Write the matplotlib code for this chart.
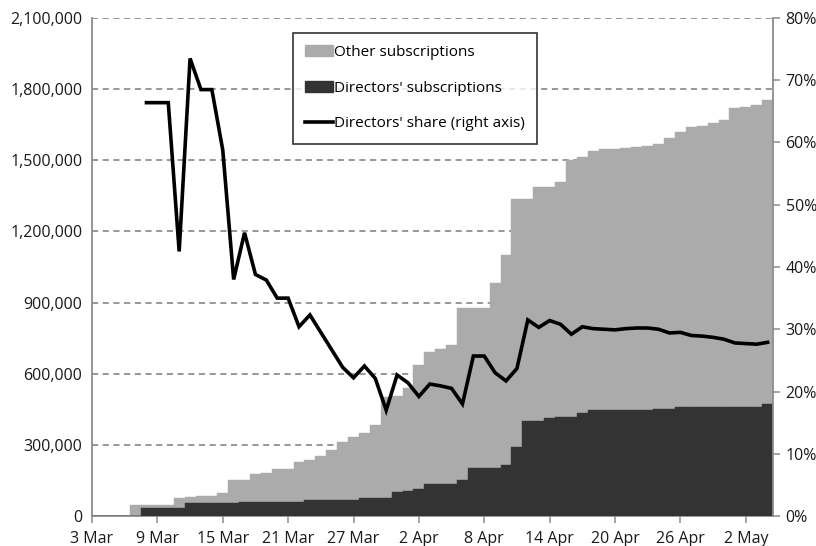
import numpy as np
import matplotlib
matplotlib.use("Agg")
from matplotlib import pyplot as plt
from matplotlib.patches import Patch
from matplotlib.lines import Line2D
from matplotlib.ticker import FuncFormatter

plt.rcParams['font.family'] = ['Open Sans', 'DejaVu Sans']

# day index 0 = 3 Mar ... 62 = 4 May
days = np.arange(63)

# cumulative subscriptions, all (top of light bars)
total = [0, 0, 0, 0, 46000, 46000, 46000, 46000, 78000, 80000,
         84000, 84000, 98000, 150000, 150000, 176000, 183000, 197000, 197000, 229000,
         236000, 253000, 278000, 313000, 334000, 351000, 382000, 503000, 505000, 540000,
         637000, 690000, 703000, 720000, 879000, 879000, 879000, 984000, 1101000, 1336000,
         1336000, 1388000, 1388000, 1410000, 1501000, 1515000, 1541000, 1547000, 1549000, 1551000,
         1555000, 1560000, 1567000, 1593000, 1621000, 1642000, 1645000, 1659000, 1670000, 1720000,
         1726000, 1733000, 1755000]

# directors' subscriptions (dark bars)
directors = [0, 0, 0, 0, 0, 33000, 33000, 33000, 33000, 55000,
             55000, 55000, 55000, 55000, 61000, 61000, 61000, 61000, 61000, 61000,
             67000, 67000, 67000, 67000, 67000, 75000, 75000, 75000, 102000, 105000,
             112000, 135000, 135000, 135000, 150000, 201000, 201000, 201000, 215000, 290000,
             400000, 400000, 412000, 418000, 418000, 436000, 446000, 446000, 446000, 446000,
             446000, 446000, 451000, 451000, 461000, 461000, 461000, 461000, 461000, 461000,
             461000, 461000, 472000]

# directors' share (%), from 8 Mar (day 5)
share_days = np.arange(5, 63)
share = [66.4, 66.4, 66.4, 42.5, 73.5, 68.5, 68.5, 58.8, 38.0, 45.5,
         38.8, 37.9, 35.0, 35.0, 30.4, 32.3, 29.5, 26.7, 23.9, 22.2,
         24.1, 22.1, 17.0, 22.65, 21.4, 19.2, 21.2, 20.9, 20.5, 18.0,
         25.7, 25.7, 23.0, 21.7, 23.7, 31.5, 30.3, 31.4, 30.8, 29.2,
         30.4, 30.1, 30.0, 29.9, 30.1, 30.2, 30.2, 30.0, 29.4, 29.5,
         29.0, 28.9, 28.7, 28.4, 27.8, 27.7, 27.6, 27.9]

tick_days = [0, 6, 12, 18, 24, 30, 36, 42, 48, 54, 60]
tick_labels = ["3 Mar", "9 Mar", "15 Mar", "21 Mar", "27 Mar", "2 Apr",
               "8 Apr", "14 Apr", "20 Apr", "26 Apr", "2 May"]

light = "#ababab"
dark = "#333333"
axis_col = "#8c8c8c"
fs = 11.5

fig = plt.figure(figsize=(8.16, 5.46), dpi=100)
ax = fig.add_axes([92/816, 1-516/546, (773-92)/816, (516-18)/546])

ax.bar(days, total, width=1.0, color=light, edgecolor=light, linewidth=0.3, zorder=2)
ax.bar(days, directors, width=1.0, color=dark, edgecolor=dark, linewidth=0.3, zorder=3)

ax.set_xlim(0, 62.5)
ax.set_ylim(0, 2100000)
ax.set_yticks(np.arange(0, 2100001, 300000))
ax.yaxis.set_major_formatter(FuncFormatter(lambda v, p: f"{int(v):,}"))
ax.set_xticks(tick_days)
ax.set_xticklabels(tick_labels)
ax.set_axisbelow(True)
ax.yaxis.grid(True, linestyle=(0, (4, 3)), color="#7a7a7a", linewidth=1.1)

for s in ["top", "right"]:
    ax.spines[s].set_visible(False)
for s in ["left", "bottom"]:
    ax.spines[s].set_color(axis_col)
    ax.spines[s].set_linewidth(1.3)
ax.tick_params(axis="y", length=0, pad=7, labelsize=fs, labelcolor="#1a1a1a")
ax.tick_params(axis="x", length=5, width=1.1, color=axis_col, pad=6,
               labelsize=fs, labelcolor="#1a1a1a")

ax2 = ax.twinx()
ax2.plot(share_days, share, color="black", linewidth=2.6, solid_joinstyle="miter", zorder=5)
ax2.set_ylim(0, 80)
ax2.set_yticks(np.arange(0, 81, 10))
ax2.yaxis.set_major_formatter(FuncFormatter(lambda v, p: f"{int(v)}%"))
for s in ["top", "left", "bottom"]:
    ax2.spines[s].set_visible(False)
ax2.spines["right"].set_color(axis_col)
ax2.spines["right"].set_linewidth(1.3)
ax2.tick_params(axis="y", length=5, width=1.1, color=axis_col, pad=4,
                labelsize=fs, labelcolor="#1a1a1a")

handles = [Patch(facecolor=light, edgecolor=light),
           Patch(facecolor=dark, edgecolor=dark),
           Line2D([0], [0], color="black", linewidth=2.6)]
labels = ["Other subscriptions", "Directors' subscriptions", "Directors' share (right axis)"]
leg = ax2.legend(handles, labels, loc="upper left", bbox_to_anchor=(0.295, 0.97),
                 frameon=True, fancybox=False, edgecolor="black", fontsize=11,
                 labelspacing=1.35, handlelength=1.8, handletextpad=0.1,
                 borderpad=0.8, borderaxespad=0)
leg.get_frame().set_linewidth(1.2)

fig.savefig("out.png", dpi=100)
